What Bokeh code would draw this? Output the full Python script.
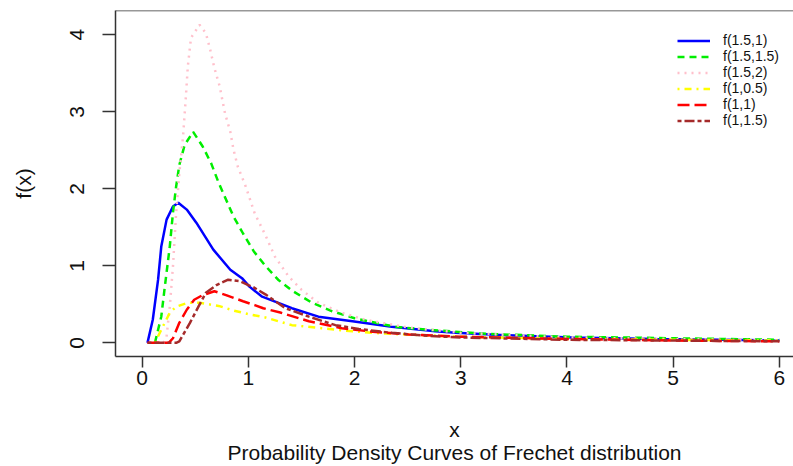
from bokeh.plotting import figure
from bokeh.models import Legend, LegendItem, Span, FixedTicker, Range1d
from bokeh.embed import file_html
from bokeh.resources import INLINE

# ---- data ----
x_blue = [0.05, 0.10, 0.15, 0.18, 0.23, 0.29, 0.34, 0.42, 0.51, 0.67, 0.83, 0.94, 1.01, 1.13, 1.41, 1.66, 1.98, 2.35, 2.76, 2.95, 3.42, 4.05, 4.84, 6.0]
y_blue = [0.0, 0.30, 0.82, 1.25, 1.60, 1.77, 1.82, 1.73, 1.56, 1.21, 0.95, 0.84, 0.73, 0.60, 0.45, 0.34, 0.28, 0.21, 0.15, 0.13, 0.10, 0.07, 0.05, 0.03]

x_green = [0.12, 0.18, 0.21, 0.26, 0.29, 0.32, 0.35, 0.40, 0.48, 0.57, 0.65, 0.72, 0.86, 0.95, 1.05, 1.16, 1.28, 1.42, 1.60, 1.79, 2.0, 2.2, 2.38, 2.6, 2.8, 3.2, 4.0, 5.0, 6.0]
y_green = [0.0, 0.34, 0.69, 1.25, 1.69, 2.03, 2.31, 2.57, 2.74, 2.55, 2.33, 2.08, 1.64, 1.42, 1.19, 1.00, 0.82, 0.67, 0.52, 0.41, 0.32, 0.26, 0.21, 0.18, 0.16, 0.12, 0.08, 0.06, 0.04]

x_pink = [0.20, 0.23, 0.26, 0.29, 0.32, 0.35, 0.385, 0.41, 0.43, 0.46, 0.54, 0.60, 0.64, 0.68, 0.73, 0.78, 0.83, 0.86, 0.90, 0.97, 1.06, 1.16, 1.25, 1.38, 1.50, 1.66, 1.88, 2.1, 2.5, 3.0, 4.0, 5.0, 6.0]
y_pink = [0.0, 0.08, 0.47, 0.99, 1.69, 2.20, 2.68, 3.16, 3.59, 3.96, 4.13, 4.02, 3.81, 3.57, 3.33, 2.98, 2.74, 2.51, 2.29, 2.05, 1.68, 1.40, 1.12, 0.86, 0.69, 0.52, 0.39, 0.30, 0.20, 0.13, 0.07, 0.05, 0.03]

x_yellow = [0.12, 0.18, 0.26, 0.32, 0.43, 0.54, 0.72, 0.86, 1.01, 1.16, 1.41, 1.69, 1.98, 2.29, 3.0, 4.0, 5.0, 6.0]
y_yellow = [0.0, 0.17, 0.39, 0.47, 0.52, 0.52, 0.48, 0.42, 0.37, 0.33, 0.23, 0.19, 0.15, 0.12, 0.08, 0.05, 0.04, 0.03]

x_red = [0.05, 0.25, 0.29, 0.35, 0.42, 0.49, 0.57, 0.68, 0.79, 0.95, 1.06, 1.14, 1.31, 1.57, 1.88, 2.2, 2.51, 3.0, 4.0, 5.0, 6.0]
y_red = [0.0, 0.0, 0.06, 0.26, 0.43, 0.56, 0.62, 0.67, 0.62, 0.54, 0.49, 0.45, 0.39, 0.28, 0.19, 0.14, 0.11, 0.08, 0.05, 0.03, 0.02]

x_brown = [0.05, 0.32, 0.35, 0.45, 0.53, 0.60, 0.70, 0.81, 0.92, 1.0, 1.05, 1.16, 1.35, 1.57, 1.82, 2.04, 2.35, 2.7, 3.0, 4.0, 5.0, 6.0]
y_brown = [0.0, 0.0, 0.02, 0.26, 0.47, 0.65, 0.75, 0.82, 0.80, 0.75, 0.72, 0.63, 0.45, 0.34, 0.23, 0.18, 0.13, 0.09, 0.07, 0.04, 0.03, 0.02]

labels = ["f(1.5,1)", "f(1.5,1.5)", "f(1.5,2)", "f(1,0.5)", "f(1,1)", "f(1,1.5)"]
x_ticks = [0, 1, 2, 3, 4, 5, 6]
y_ticks = [0, 1, 2, 3, 4]
x_title = "x"
sub_title = "Probability Density Curves of Frechet distribution"

FONT = "Liberation Sans"
AX = "#333333"

p = figure(width=793, height=466, output_backend="svg", toolbar_location=None,
           x_range=Range1d(-0.251, 6.133), y_range=Range1d(-0.177, 4.315),
           min_border_left=115, min_border_top=10, min_border_right=0, min_border_bottom=0)
p.outline_line_color = None
p.grid.visible = False
p.background_fill_color = "white"
p.border_fill_color = "white"

series = [
    (x_blue, y_blue, "blue", None),
    (x_green, y_green, "#00ee00", "7 5"),
    (x_pink, y_pink, "pink", "2 5"),
    (x_yellow, y_yellow, "yellow", "2 5 7 5"),
    (x_red, y_red, "red", "12 5"),
    (x_brown, y_brown, "brown", "4 3 10 3"),
]
items = []
for (xs, ys, col, dash), lab in zip(series, labels):
    kw = {}
    if dash:
        kw["line_dash"] = dash
    r = p.line(xs, ys, line_color=col, line_width=2.5, **kw)
    items.append(LegendItem(label=lab, renderers=[r]))

legend = Legend(items=items, location=(562, 228), border_line_color=None,
                background_fill_alpha=0, padding=0, margin=0, spacing=0,
                glyph_width=33, glyph_height=15, label_height=15, label_standoff=13,
                label_text_font=FONT, label_text_font_size="14px", label_text_color="#111111")
p.add_layout(legend, "center")

# top border of the box
p.add_layout(Span(location=4.315, dimension="width", line_color=AX, line_width=1.5))

for ax in (p.xaxis[0], p.yaxis[0]):
    ax.axis_line_color = AX
    ax.axis_line_width = 1.5
    ax.major_tick_line_color = AX
    ax.major_tick_line_width = 1.5
    ax.major_tick_in = 0
    ax.minor_tick_line_color = None
    ax.major_label_text_font = FONT
    ax.major_label_text_font_size = "21px"
    ax.major_label_text_color = "#111111"
    ax.axis_label_text_font = FONT
    ax.axis_label_text_font_size = "21px"
    ax.axis_label_text_font_style = "normal"
    ax.axis_label_text_color = "#111111"

p.xaxis.ticker = FixedTicker(ticks=x_ticks)
p.yaxis.ticker = FixedTicker(ticks=y_ticks)
p.xaxis.major_tick_out = 11
p.yaxis.major_tick_out = 13
p.xaxis.major_label_standoff = 3
p.yaxis.major_label_standoff = 18
p.yaxis.major_label_orientation = "vertical"
p.xaxis.axis_label = x_title + "\n" + sub_title
p.xaxis.axis_label_text_line_height = 1.02
p.yaxis.axis_label = "f(x)"
p.xaxis.axis_label_standoff = 30
p.yaxis.axis_label_standoff = 33

open("out.html", "w").write(file_html(p, INLINE))
